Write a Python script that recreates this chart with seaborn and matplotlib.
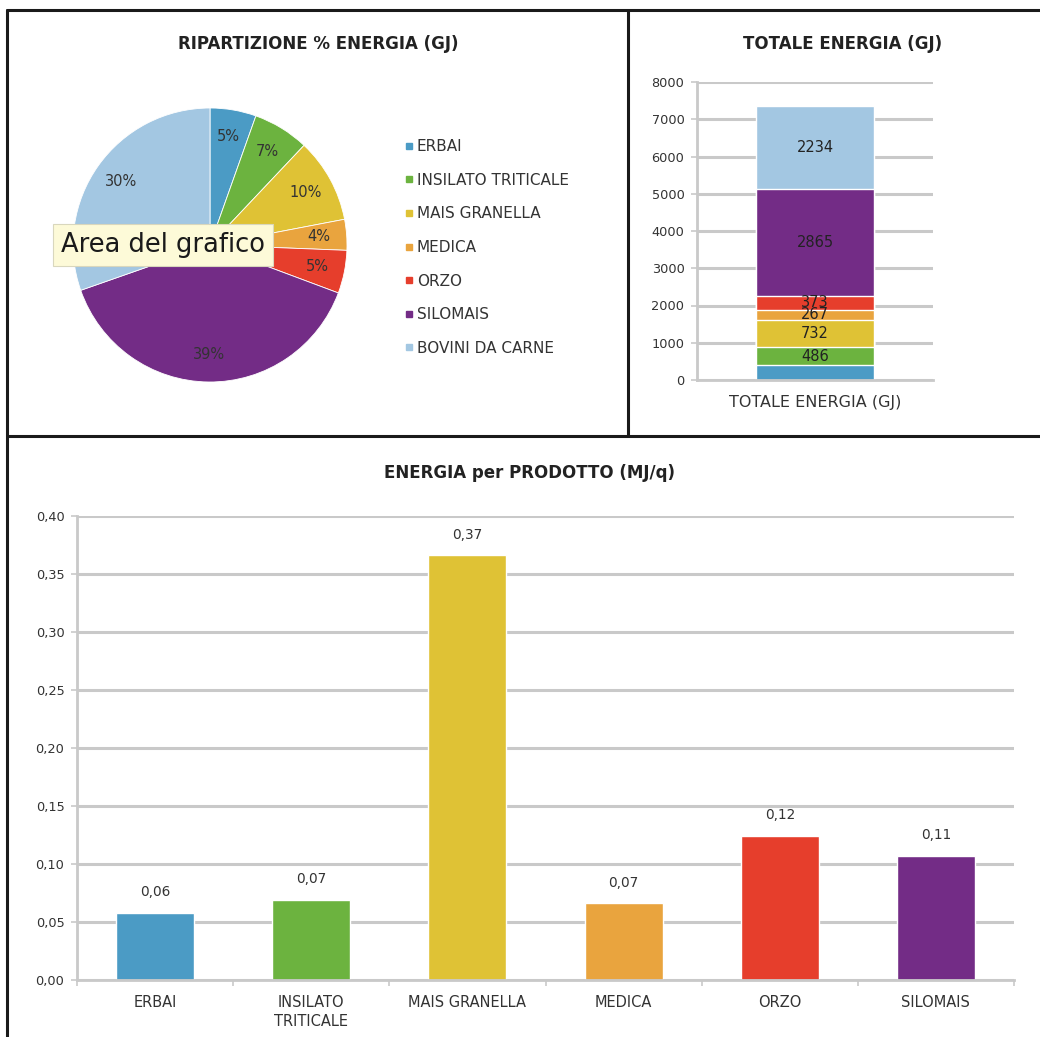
import matplotlib
matplotlib.use("Agg")
import matplotlib.pyplot as plt
from matplotlib.lines import Line2D
from matplotlib.ticker import FuncFormatter, MultipleLocator, FixedLocator
import seaborn as sns
import pandas as pd
import numpy as np

# ---- data ----
crops = ["ERBAI", "INSILATO TRITICALE", "MAIS GRANELLA", "MEDICA", "ORZO", "SILOMAIS", "BOVINI DA CARNE"]
energy_gj = [400, 486, 732, 267, 373, 2865, 2234]
colors = ["#4b9bc5", "#6cb33f", "#dfc235", "#e9a43e", "#e63e2c", "#732c86", "#a3c7e2"]

products = ["ERBAI", "INSILATO\nTRITICALE", "MAIS GRANELLA", "MEDICA", "ORZO", "SILOMAIS"]
energy_per_q = [0.058, 0.069, 0.366, 0.066, 0.124, 0.107]

W, H = 1040, 1037
sns.set_theme(style="white")
plt.rcParams["font.family"] = ["DejaVu Sans"]

GRID = "#c9c9c9"
TXT = "#333333"
TICK_FS = 9.3
TITLE_FS = 12

fig = plt.figure(figsize=(W / 100, H / 100), dpi=100)
fig.patch.set_facecolor("white")


def rect(x0, y0, x1, y1):
    return [x0 / W, 1 - y1 / H, (x1 - x0) / W, (y1 - y0) / H]


def comma(v, nd=2):
    return f"{v:.{nd}f}".replace(".", ",")


def style_axis(ax):
    sns.despine(ax=ax, top=True, right=True)
    for s in ("left", "bottom"):
        ax.spines[s].set_color(GRID)
        ax.spines[s].set_linewidth(2.0)
    ax.yaxis.grid(True, color=GRID, linewidth=2.2)
    ax.xaxis.grid(False)
    ax.set_axisbelow(True)
    ax.tick_params(axis="y", which="both", left=True, length=4, width=1.2,
                   color=GRID, labelsize=TICK_FS, labelcolor=TXT, pad=5)


# ---- pie: percentage split ----
ax_pie = fig.add_axes(rect(73, 108, 347, 382))
ax_pie.pie(energy_gj, colors=colors, startangle=90, counterclock=False,
           autopct="%.0f%%", pctdistance=0.8,
           wedgeprops=dict(edgecolor="white", linewidth=0.6),
           textprops=dict(fontsize=10.5, color=TXT))
ax_pie.set_xlim(-1, 1)
ax_pie.set_ylim(-1, 1)
ax_pie.set_aspect("equal")
fig.text(318 / W, 1 - 44 / H, "RIPARTIZIONE % ENERGIA (GJ)", ha="center", va="center",
         fontsize=TITLE_FS, fontweight="bold", color="#222222")

handles = [Line2D([], [], marker="s", linestyle="", markersize=4.5,
                  markerfacecolor=c, markeredgecolor=c) for c in colors]
fig.legend(handles, crops, loc="upper left", bbox_to_anchor=(404 / W, 1 - 139 / H),
           frameon=False, fontsize=11, handlelength=0.6, handletextpad=0.25,
           labelspacing=1.22, borderaxespad=0, borderpad=0, labelcolor=TXT)

fig.text(61 / W, 1 - 245 / H, "Area del grafico", ha="left", va="center",
         fontsize=18.5, color="#1a1a1a",
         bbox=dict(boxstyle="square,pad=0.3", facecolor="#fdfad8", edgecolor="#d9d7bd",
                   linewidth=0.8))

# ---- stacked bar: total energy ----
ax_tot = fig.add_axes(rect(697, 82, 933, 380))
cum = np.cumsum(energy_gj)
# draw cumulative totals from the top segment down so each layer shows its own slice
for i in range(len(energy_gj) - 1, -1, -1):
    sns.barplot(x=["TOTALE ENERGIA (GJ)"], y=[cum[i]], color=colors[i], width=0.5,
                saturation=1, ax=ax_tot, zorder=2)
bottoms = cum - np.array(energy_gj)
for i, v in enumerate(energy_gj):
    if i == 0:
        continue
    ax_tot.text(0, bottoms[i] + v / 2, str(v), ha="center", va="center",
                fontsize=10.5, color="#222222", zorder=5)
ax_tot.set_ylim(0, 8000)
ax_tot.set_xlim(-0.5, 0.5)
ax_tot.yaxis.set_major_locator(MultipleLocator(1000))
style_axis(ax_tot)
ax_tot.tick_params(axis="x", bottom=False, labelsize=11.5, labelcolor=TXT, pad=5)
ax_tot.set_xlabel("")
ax_tot.set_ylabel("")
fig.text(843 / W, 1 - 44 / H, "TOTALE ENERGIA (GJ)", ha="center", va="center",
         fontsize=TITLE_FS, fontweight="bold", color="#222222")

# ---- bar chart: energy per product ----
df = pd.DataFrame({"prodotto": products, "energia": energy_per_q})
ax_bar = fig.add_axes(rect(77, 516, 1014, 980))
sns.barplot(data=df, x="prodotto", y="energia", hue="prodotto", palette=colors[:6],
            width=0.5, saturation=1, legend=False, ax=ax_bar, zorder=2)
for i, v in enumerate(energy_per_q):
    ax_bar.annotate(comma(v), (i, v), xytext=(0, 15), textcoords="offset points",
                    ha="center", va="center", fontsize=9.8, color=TXT)
ax_bar.set_ylim(0, 0.40)
ax_bar.set_xlim(-0.5, len(products) - 0.5)
ax_bar.yaxis.set_major_locator(MultipleLocator(0.05))
ax_bar.yaxis.set_major_formatter(FuncFormatter(lambda v, p: comma(v)))
style_axis(ax_bar)
ax_bar.xaxis.set_minor_locator(FixedLocator(np.arange(-0.5, len(products), 1.0)))
ax_bar.tick_params(axis="x", which="major", bottom=False, labelsize=10.5,
                   labelcolor=TXT, pad=5)
ax_bar.tick_params(axis="x", which="minor", bottom=True, length=4, width=1.2, color=GRID)
for lab in ax_bar.get_xticklabels():
    lab.set_linespacing(1.35)
ax_bar.set_xlabel("")
ax_bar.set_ylabel("")
fig.text(530 / W, 1 - 473 / H, "ENERGIA per PRODOTTO (MJ/q)", ha="center", va="center",
         fontsize=TITLE_FS, fontweight="bold", color="#222222")

# ---- panel borders ----
def hline(y, x0, x1):
    fig.add_artist(Line2D([x0 / W, x1 / W], [1 - y / H, 1 - y / H], color="#1a1a1a", lw=2.2))


def vline(x, y0, y1):
    fig.add_artist(Line2D([x / W, x / W], [1 - y0 / H, 1 - y1 / H], color="#1a1a1a", lw=2.2))


hline(10, 7, W)
hline(436, 7, W)
vline(7, 10, H)
vline(628, 10, 436)

fig.savefig("out.png", dpi=100)
